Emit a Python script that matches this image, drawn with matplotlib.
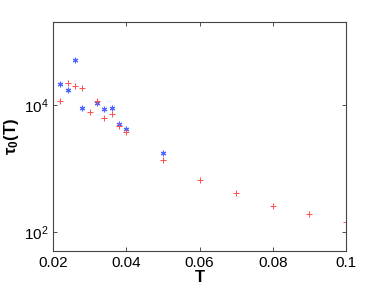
import matplotlib
matplotlib.use("Agg")
import matplotlib.pyplot as plt
from matplotlib.ticker import FixedLocator, NullLocator

plt.rcParams['font.family'] = ['Liberation Sans', 'DejaVu Sans']
plt.rcParams['mathtext.fontset'] = 'custom'
plt.rcParams['mathtext.rm'] = 'Liberation Sans'
plt.rcParams['mathtext.bf'] = 'Liberation Sans:bold'

# blue asterisks
T_blue = [0.022, 0.024, 0.026, 0.028, 0.032, 0.034, 0.036, 0.038, 0.040, 0.050]
tau_blue = [2.16e4, 1.74e4, 5.0e4, 8.9e3, 1.07e4, 8.7e3, 8.9e3, 4.98e3, 4.2e3, 1.75e3]

# red pluses
T_red = [0.022, 0.024, 0.026, 0.028, 0.030, 0.032, 0.034, 0.036, 0.038, 0.040,
         0.050, 0.060, 0.070, 0.080, 0.090, 0.100]
tau_red = [1.16e4, 2.24e4, 1.96e4, 1.83e4, 7.7e3, 1.13e4, 6.3e3, 7.1e3, 4.6e3, 3.7e3,
           1.34e3, 660, 417, 257, 195, 146]

x_ticks = [0.02, 0.04, 0.06, 0.08, 0.1]
x_labels = ['0.02', '0.04', '0.06', '0.08', '0.1']
y_ticks = [1e2, 1e4]

fig = plt.figure(figsize=(3.82, 2.87), dpi=100)
ax = fig.add_axes([0.139, 0.125, 0.767, 0.798])

ax.plot(T_blue, tau_blue, linestyle='none', marker=(6, 2, 0), markersize=4,
        markeredgewidth=0.8, color=(0.3, 0.4, 1.0))
ax.plot(T_red, tau_red, linestyle='none', marker='+', markersize=5,
        markeredgewidth=0.7, color=(1.0, 0.3, 0.3))

ax.set_yscale('log')
ax.set_xlim(0.02, 0.1)
ax.set_ylim(50, 2e5)
ax.xaxis.set_major_locator(FixedLocator(x_ticks))
ax.set_xticklabels(x_labels)
ax.yaxis.set_major_locator(FixedLocator(y_ticks))
ax.yaxis.set_minor_locator(NullLocator())
ax.tick_params(direction='in', top=True, right=True, length=3, width=0.6,
               labelsize=11, colors='#333333', labelcolor='black')
for s in ax.spines.values():
    s.set_color('#444444')
    s.set_linewidth(0.8)

ax.set_xlabel('T', fontsize=12, fontweight='bold', labelpad=0)
ax.set_ylabel(r'$\mathbf{\tau_0(T)}$', fontsize=12, labelpad=2)

fig.savefig('out.png', dpi=100)
